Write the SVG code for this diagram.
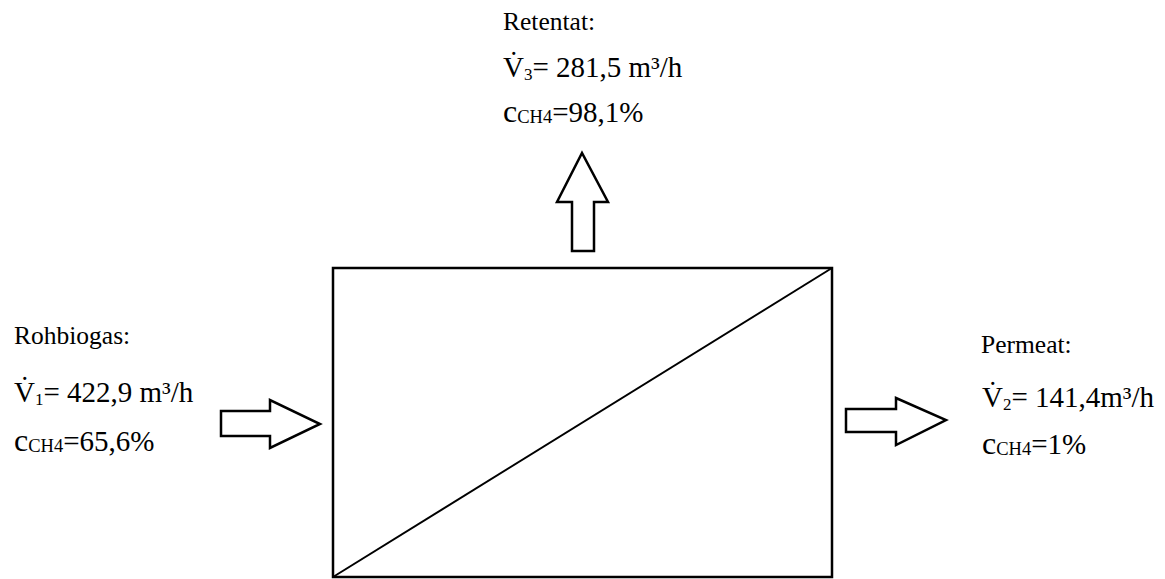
<svg xmlns="http://www.w3.org/2000/svg" width="1165" height="579" viewBox="0 0 1165 579">
<style>
text{font-family:"Liberation Serif","Times New Roman",serif;font-size:25.5px;fill:#000}
.val{font-size:29px}
.sub{font-size:17px}
.subc{font-size:18.5px}
.c{font-size:32px}
.shape{fill:#fff;stroke:#000;stroke-width:2.5;stroke-linejoin:miter}
</style>
<rect width="1165" height="579" fill="#fff"/>
<g id="membrane">
<rect class="shape" x="333" y="268" width="499" height="309"/>
<line x1="333" y1="577" x2="832" y2="268" stroke="#000" stroke-width="2"/>
</g>
<g id="connectors">
<polygon class="shape" points="221,411 270,411 270,400 320,424 270,448 270,436 221,436"/>
<polygon class="shape" points="846,409 896,409 896,398 946,420 896,445 896,432 846,432"/>
<polygon class="shape" points="572,251 594,251 594,202 608,202 582,153 557,202 572,202"/>
</g>
<g id="retentat">
<text x="503" y="30">Retentat:</text>
<text class="val" x="503" y="77">V̇<tspan class="sub" dy="3">3</tspan><tspan dy="-3">= 281,5 m³/h</tspan></text>
<text class="val" x="503" y="122"><tspan class="c">c</tspan><tspan class="subc" dy="1">CH4</tspan><tspan dy="-1">=98,1%</tspan></text>
</g>
<g id="rohbiogas">
<text x="14" y="344">Rohbiogas:</text>
<text class="val" x="14" y="402">V̇<tspan class="sub" dy="3">1</tspan><tspan dy="-3">= 422,9 m³/h</tspan></text>
<text class="val" x="14" y="451"><tspan class="c">c</tspan><tspan class="subc" dy="1">CH4</tspan><tspan dy="-1">=65,6%</tspan></text>
</g>
<g id="permeat">
<text x="981" y="353">Permeat:</text>
<text class="val" x="982" y="407">V̇<tspan class="sub" dy="3">2</tspan><tspan dy="-3">= 141,4m³/h</tspan></text>
<text class="val" x="982" y="454"><tspan class="c">c</tspan><tspan class="subc" dy="1">CH4</tspan><tspan dy="-1">=1%</tspan></text>
</g>
</svg>
